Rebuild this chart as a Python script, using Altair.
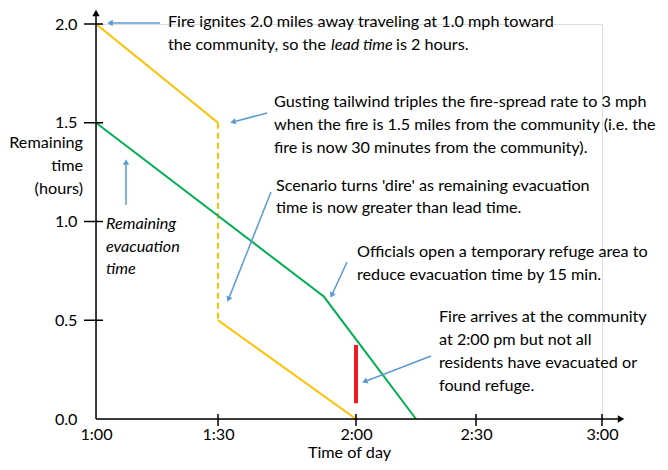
import math
import altair as alt
import pandas as pd

FONT = "Lato"
FS = 16.2
BLUE = "#5B9BD5"
YELLOW = "#FFC000"
GREEN = "#00B050"
RED = "#EC1C24"

# ---- data (x in minutes after 1:00, y in hours) ----
yellow_before_x = [0, 30]
yellow_before_y = [2.0, 1.5]
yellow_jump_x = [30, 30]
yellow_jump_y = [1.5, 0.5]
yellow_after_x = [30, 60]
yellow_after_y = [0.5, 0.0]
green_x = [0, 53, 75]
green_y = [1.5, 0.62, 0.0]
red_x = [60]
red_y0 = [0.08]
red_y1 = [0.375]
x_ticks = [0, 30, 60, 90, 120]
x_tick_labels = ["1:00", "1:30", "2:00", "2:30", "3:00"]
y_ticks = [0.0, 0.5, 1.0, 1.5, 2.0]

W, H = 506, 395
OX, OY = 96, 24  # page position of plot origin

xs = alt.Scale(domain=x_ticks, range=[0, 122, 260, 380, 506], zero=False, nice=False)
ys = alt.Scale(domain=[0, 2], zero=True, nice=False)

label_expr = "[" + ",".join(f"'{l}'" for l in x_tick_labels) + "][round(datum.value/30)]"
xaxis = alt.Axis(values=x_ticks, labelExpr=label_expr, domain=False, ticks=False, tickSize=0,
                 grid=False, labelPadding=7, labelFontSize=FS, labelFont=FONT, labelColor="black",
                 labelFlush=False, title="Time of day", titleFont=FONT, titleFontSize=FS,
                 titleFontWeight="normal", titleColor="black", titlePadding=2)
yaxis = alt.Axis(values=y_ticks, format=".1f", domain=False, ticks=False, tickSize=0, grid=False,
                 labelPadding=19, labelFontSize=FS, labelFont=FONT, labelColor="black",
                 labelFlush=False, title=None)


def X(f):
    return alt.X(f, type="quantitative", scale=xs, axis=xaxis)


def Y(f):
    return alt.Y(f, type="quantitative", scale=ys, axis=yaxis)


def line(xv, yv, color, dash=None):
    df = pd.DataFrame({"x": xv, "y": yv})
    kw = dict(color=color, strokeWidth=2)
    if dash:
        kw["strokeDash"] = dash
    return alt.Chart(df).mark_line(**kw).encode(x=X("x"), y=Y("y"))


def one():
    return alt.Data(values=[{"a": 1}])


def rule_px(x1, y1, x2, y2, color="black", sw=1.5):
    return alt.Chart(one()).mark_rule(color=color, strokeWidth=sw).encode(
        x=alt.value(x1 - OX), y=alt.value(y1 - OY), x2=alt.value(x2 - OX), y2=alt.value(y2 - OY))


def tri_px(x, y, angle, color, size):
    return alt.Chart(one()).mark_point(shape="triangle-up", filled=True, color=color, opacity=1,
                                       size=size, angle=angle).encode(
        x=alt.value(x - OX), y=alt.value(y - OY))


def arrow(x1, y1, x2, y2, color=BLUE, head=40, sw=1.5):
    dx, dy = x2 - x1, y2 - y1
    L = math.hypot(dx, dy)
    ux, uy = dx / L, dy / L
    cx, cy = x2 - ux * 4, y2 - uy * 4
    ang = math.degrees(math.atan2(dx, -dy)) % 360
    return [rule_px(x1, y1, x2 - ux * 5, y2 - uy * 5, color, sw), tri_px(cx, cy, ang, color, head)]


def text_px(s, x, y, italic=False, align="left"):
    kw = dict(align=align, baseline="middle", font=FONT, fontSize=FS, color="black", text=s)
    if italic:
        kw["fontStyle"] = "italic"
    return alt.Chart(one()).mark_text(**kw).encode(x=alt.value(x - OX), y=alt.value(y - OY))


layers = []
# data lines
layers.append(line(yellow_before_x, yellow_before_y, YELLOW))
layers.append(line(yellow_jump_x, yellow_jump_y, YELLOW, dash=[6, 4]))
layers.append(line(yellow_after_x, yellow_after_y, YELLOW))
layers.append(line(green_x, green_y, GREEN))
red_df = pd.DataFrame({"x": red_x, "y0": red_y0, "y1": red_y1})
layers.append(alt.Chart(red_df).mark_rule(color=RED, strokeWidth=4).encode(
    x=X("x"), y=Y("y0"), y2="y1"))

# axis lines with arrowheads
layers.append(rule_px(OX, OY + H, OX, 14))
layers.append(tri_px(OX, 13, 0, "black", 55))
layers.append(rule_px(OX, OY + H, 620, OY + H))
layers.append(tri_px(621, OY + H, 90, "black", 55))

# crossing ticks
ytick_df = pd.DataFrame({"y": y_ticks[1:]})
layers.append(alt.Chart(ytick_df).mark_rule(color="black", strokeWidth=1.5).encode(
    y=Y("y"), x=alt.value(-12), x2=alt.value(7)))
xtick_df = pd.DataFrame({"x": x_ticks[1:]})
layers.append(alt.Chart(xtick_df).mark_rule(color="black", strokeWidth=1.5).encode(
    x=X("x"), y=alt.value(H - 5), y2=alt.value(H + 7)))

# y title
for s, yy in zip(["Remaining", "time", "(hours)"], [143, 166, 189]):
    layers.append(text_px(s, 83, yy, align="right"))

# annotations
layers.append(text_px("Fire ignites 2.0 miles away traveling at 1.0 mph toward", 168, 22))
layers.append(text_px("the community, so the", 168, 45))
layers.append(text_px("lead time", 331, 45, italic=True))
layers.append(text_px("is 2 hours.", 396, 45))
for s, yy in zip(["Gusting tailwind triples the fire-spread rate to 3 mph",
                  "when the fire is 1.5 miles from the community (i.e. the",
                  "fire is now 30 minutes from the community)."], [102, 125, 148]):
    layers.append(text_px(s, 274, yy))
for s, yy in zip(["Scenario turns 'dire' as remaining evacuation",
                  "time is now greater than lead time."], [186, 208]):
    layers.append(text_px(s, 276, yy))
for s, yy in zip(["Remaining", "evacuation", "time"], [224, 247, 269]):
    layers.append(text_px(s, 106, yy, italic=True))
for s, yy in zip(["Officials open a temporary refuge area to",
                  "reduce evacuation time by 15 min."], [252, 275]):
    layers.append(text_px(s, 357, yy))
for s, yy in zip(["Fire arrives at the community", "at 2:00 pm but not all",
                  "residents have evacuated or", "found refuge."], [317, 340, 363, 386]):
    layers.append(text_px(s, 439, yy))

# blue arrows
layers += arrow(160, 23, 106, 23)
layers += arrow(267, 113, 229, 123)
layers += arrow(126, 205, 126, 158)
layers += arrow(271, 192, 227, 303)
layers += arrow(347, 262, 330, 299)
layers += arrow(431, 356, 361, 383)

chart = alt.layer(*layers).properties(
    width=W, height=H,
    padding={"left": OX - 8, "top": OY - 8, "right": 652 - (OX - 8) - W, "bottom": 454 - (OY - 8) - H},
    autosize=alt.AutoSizeParams(type="none"),
).configure_view(stroke=None).configure(background="white")

chart.save("out.html", embed_options={"renderer": "svg", "actions": False})
